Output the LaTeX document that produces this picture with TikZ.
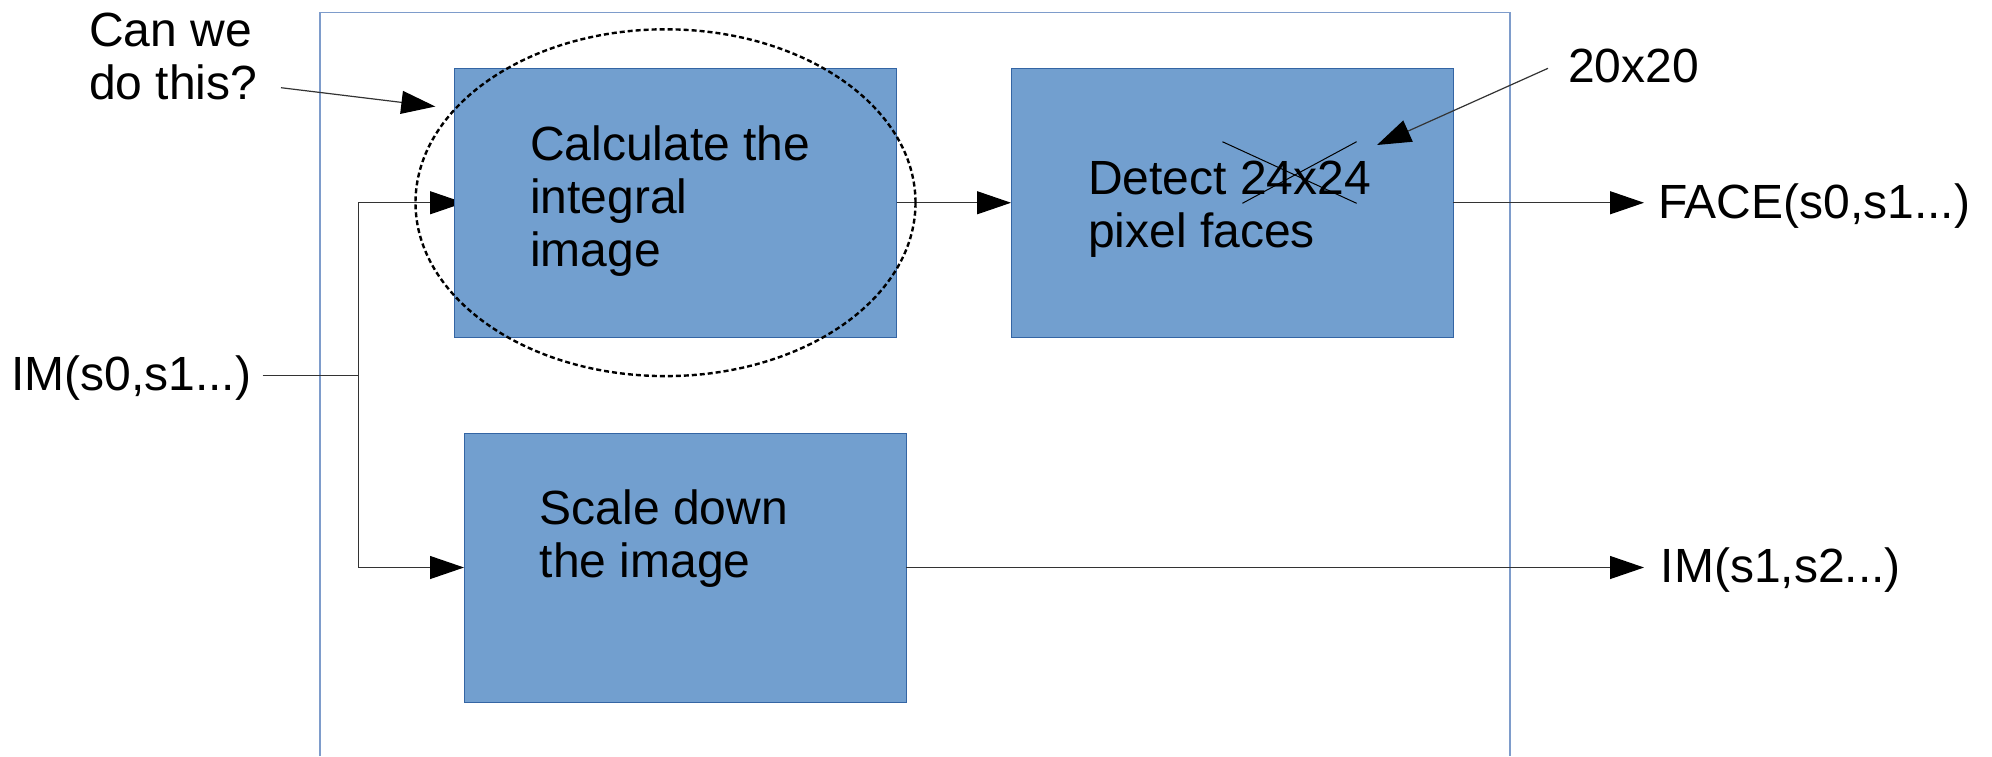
\documentclass[tikz,border=0pt]{standalone}
\usepackage{fontspec}
\setmainfont{Liberation Sans}
\usetikzlibrary{arrows.meta,backgrounds}
\definecolor{boxfill}{HTML}{729FCF}
\definecolor{boxline}{HTML}{3465A4}
\definecolor{framecol}{HTML}{7E9CCB}
\begin{document}
\begin{tikzpicture}[x=1pt,y=-1pt,
  blk/.style={draw=boxline, fill=boxfill, line width=1pt, inner sep=0pt, outer sep=0pt, anchor=north west},
  lbl/.style={inner sep=0pt, anchor=base west, font=\fontsize{48}{53.2}\selectfont},
  conn/.style={draw=black!80, line width=1.2pt},
  arr/.style={conn, -{Triangle[length=34pt, width=23pt, color=black]}},
  strike/.style={draw=black, line width=1pt},
  ring/.style={draw=black, line width=2.4pt, dash pattern=on 5pt off 3pt}
]
\useasboundingbox (0,0) rectangle (1992,756);

% outer frame (open at the bottom)
\draw[framecol, line width=1.2pt] (320,756) -- (320,12.5) -- (1510,12.5) -- (1510,756);

% boxes
\node[blk, minimum width=442.5pt, minimum height=268.5pt] (calc) at (454,68.5) {};
\node[blk, minimum width=442pt, minimum height=268.5pt] (detect) at (1011,68.5) {};
\node[blk, minimum width=442pt, minimum height=269pt] (scale) at (464,433) {};

% box texts
\node[lbl] (calctxt) at (530,160) {\parbox[t]{330pt}{\raggedright Calculate the\\integral\\image}};
\node[lbl] (dettxt) at (1088,194) {\parbox[t]{330pt}{\raggedright Detect 24x24\\pixel faces}};
\node[lbl] (scaletxt) at (539.5,524) {\parbox[t]{330pt}{\raggedright Scale down\\the image}};

% strike-through over 24x24
\draw[strike] (1222.4,141.7) -- (1356.6,203.3);
\draw[strike] (1242.4,203.3) -- (1356.6,141.7);

% outside labels
\node[lbl] (qtxt) at (89,46.7) {\parbox[t]{300pt}{\raggedright Can we\\do this?}};
\node[lbl] (sztxt) at (1568,82.3) {20x20};
\node[lbl] (intxt) at (11,390.5) {IM(s0,s1...)};
\node[lbl] (facetxt) at (1658,218.3) {FACE(s0,s1...)};
\node[lbl] (outtxt) at (1660.5,582.5) {IM(s1,s2...)};

% connector end points
\coordinate (inS) at (262.7,375.7);
\coordinate (j) at (358.3,375.7);
\coordinate (faceIn) at (1644,202.75);
\coordinate (outIn) at (1644,567.5);
\coordinate (qS) at (281,87.7);
\coordinate (qE) at (435.3,106.5);
\coordinate (szS) at (1548,68.3);
\coordinate (szE) at (1377,145);

\begin{scope}[on background layer]
  \fill[white] (0,0) rectangle (1992,756);
  \draw[arr, shorten >=-10pt] (j) |- (calc.west);
\end{scope}
\draw[conn] (inS) -- (j);
\draw[arr] (j) |- (scale.west);
\draw[arr] (calc.east) -- (detect.west);
\draw[arr] (detect.east) -- (faceIn);
\draw[arr] (scale.east) -- (outIn);
\draw[arr] (qS) -- (qE);
\draw[arr] (szS) -- (szE);

% dashed ellipse
\draw[ring] (665.5,202.7) ellipse [x radius=250, y radius=173.4];
\end{tikzpicture}
\end{document}
